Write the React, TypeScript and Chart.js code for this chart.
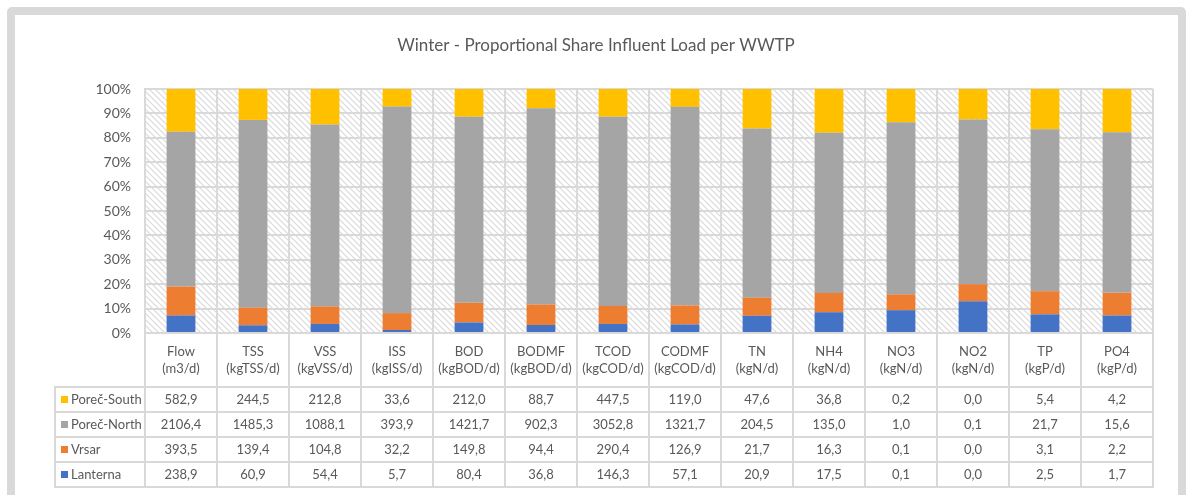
import React, { useEffect, useRef } from "react";
import { Chart, registerables } from "chart.js";

Chart.register(...registerables);

const TITLE = "Winter - Proportional Share Influent Load per WWTP";

const categories: string[][] = [
  ["Flow", "(m3/d)"],
  ["TSS", "(kgTSS/d)"],
  ["VSS", "(kgVSS/d)"],
  ["ISS", "(kgISS/d)"],
  ["BOD", "(kgBOD/d)"],
  ["BODMF", "(kgBOD/d)"],
  ["TCOD", "(kgCOD/d)"],
  ["CODMF", "(kgCOD/d)"],
  ["TN", "(kgN/d)"],
  ["NH4", "(kgN/d)"],
  ["NO3", "(kgN/d)"],
  ["NO2", "(kgN/d)"],
  ["TP", "(kgP/d)"],
  ["PO4", "(kgP/d)"],
];

// Loads per WWTP (unrounded where the table shows rounded values)
const lanterna = [238.9, 60.9, 54.4, 5.7, 80.4, 36.8, 146.3, 57.1, 20.9, 17.5, 0.13, 0.013, 2.5, 1.7];
const vrsar = [393.5, 139.4, 104.8, 32.2, 149.8, 94.4, 290.4, 126.9, 21.7, 16.3, 0.09, 0.007, 3.1, 2.2];
const porecNorth = [2106.4, 1485.3, 1088.1, 393.9, 1421.7, 902.3, 3052.8, 1321.7, 204.5, 135.0, 0.98, 0.0675, 21.7, 15.6];
const porecSouth = [582.9, 244.5, 212.8, 33.6, 212.0, 88.7, 447.5, 119.0, 47.6, 36.8, 0.19, 0.0125, 5.4, 4.2];

const seriesNames = ["Lanterna", "Vrsar", "Poreč-North", "Poreč-South"];
const seriesColors = ["#4472C4", "#ED7D31", "#A5A5A5", "#FFC000"];
const seriesValues = [lanterna, vrsar, porecNorth, porecSouth];

const yTicks = [0, 10, 20, 30, 40, 50, 60, 70, 80, 90, 100];

const FONT = "Lato, 'Noto Sans', sans-serif";
const TEXT = "#595959";
const GRID = "#d9d9d9";

const fmt = (v: number) => v.toFixed(1).replace(".", ",");

const totals = categories.map((_, i) => seriesValues.reduce((s, arr) => s + arr[i], 0));
const pct = (arr: number[]) => arr.map((v, i) => (v / totals[i]) * 100);

function makePattern(ctx: CanvasRenderingContext2D) {
  const c = document.createElement("canvas");
  const s = 6;
  c.width = s;
  c.height = s;
  const g = c.getContext("2d")!;
  g.fillStyle = "#ffffff";
  g.fillRect(0, 0, s, s);
  g.strokeStyle = "#d9d9d9";
  g.lineWidth = 1.2;
  g.beginPath();
  g.moveTo(-1, -1);
  g.lineTo(s + 1, s + 1);
  g.moveTo(-1, s - 1);
  g.lineTo(1, s + 1);
  g.moveTo(s - 1, -1);
  g.lineTo(s + 1, 1);
  g.stroke();
  return ctx.createPattern(c, "repeat")!;
}

const hatchPlugin = {
  id: "hatch",
  beforeDraw(chart: any) {
    const { ctx, chartArea: a } = chart;
    ctx.save();
    ctx.fillStyle = makePattern(ctx);
    ctx.fillRect(a.left, a.top, a.right - a.left, a.bottom - a.top);
    ctx.restore();
  },
};

const tablePlugin = {
  id: "dataTable",
  afterDraw(chart: any) {
    const { ctx, chartArea: a } = chart;
    const xs = chart.scales.x;
    const n = categories.length;
    const colW = (a.right - a.left) / n;
    const headTop = a.bottom;
    const headBottom = a.bottom + 54;
    const rowH = 25;
    const tableLeft = 55;
    const rows = [3, 2, 1, 0];
    const tableBottom = headBottom + rowH * rows.length;

    ctx.save();
    ctx.strokeStyle = GRID;
    ctx.lineWidth = 2;
    ctx.beginPath();
    for (let i = 0; i <= n; i++) {
      const x = a.left + i * colW;
      ctx.moveTo(x, headTop);
      ctx.lineTo(x, tableBottom);
    }
    ctx.moveTo(tableLeft, headBottom);
    ctx.lineTo(tableLeft, tableBottom);
    for (let r = 0; r <= rows.length; r++) {
      const y = headBottom + r * rowH;
      ctx.moveTo(tableLeft - 1, y);
      ctx.lineTo(a.right + 1, y);
    }
    ctx.stroke();

    ctx.font = `13px ${FONT}`;
    ctx.textBaseline = "middle";
    rows.forEach((si, r) => {
      const yc = headBottom + r * rowH + rowH / 2 + 0.5;
      ctx.fillStyle = seriesColors[si];
      ctx.fillRect(61, yc - 4, 7, 7);
      ctx.fillStyle = TEXT;
      ctx.textAlign = "left";
      ctx.fillText(seriesNames[si], 71, yc);
      ctx.textAlign = "center";
      seriesValues[si].forEach((v, i) => {
        ctx.fillText(fmt(v), xs.getPixelForValue(i), yc);
      });
    });
    ctx.restore();
  },
};

export default function App() {
  const ref = useRef<HTMLCanvasElement>(null);
  useEffect(() => {
    if (!ref.current) return;
    const chart = new Chart(ref.current, {
      type: "bar",
      data: {
        labels: categories,
        datasets: seriesNames.map((name, i) => ({
          label: name,
          data: pct(seriesValues[i]),
          backgroundColor: seriesColors[i],
          borderWidth: 0,
          barPercentage: 0.4,
          categoryPercentage: 1,
        })),
      },
      options: {
        animation: false,
        responsive: false,
        maintainAspectRatio: false,
        layout: { padding: { left: 39, right: 39, top: 0, bottom: 0 } },
        plugins: {
          legend: { display: false },
          tooltip: { enabled: false },
          title: {
            display: true,
            text: TITLE,
            color: TEXT,
            font: { family: FONT, size: 17, weight: "normal" },
            padding: { top: 35, bottom: 33.6 },
          },
        },
        scales: {
          x: {
            stacked: true,
            offset: true,
            grid: { display: true, offset: true, color: GRID, lineWidth: 2, drawTicks: false },
            border: { display: true, color: GRID, width: 2 },
            ticks: {
              color: TEXT,
              font: { family: FONT, size: 13, lineHeight: 1.3 },
              padding: 10,
              maxRotation: 0,
              autoSkip: false,
            },
            afterFit: (s: any) => {
              s.height = 162;
            },
          },
          y: {
            stacked: true,
            min: 0,
            max: 100,
            afterBuildTicks: (s: any) => {
              s.ticks = yTicks.map((v) => ({ value: v }));
            },
            grid: { color: GRID, lineWidth: 2, drawTicks: false },
            border: { display: true, color: GRID, width: 2 },
            ticks: {
              color: TEXT,
              font: { family: FONT, size: 14 },
              padding: 14,
              callback: (v: any) => `${v}%`,
            },
            afterFit: (s: any) => {
              s.width = 106;
            },
          },
        },
      },
      plugins: [hatchPlugin, tablePlugin],
    });
    return () => chart.destroy();
  }, []);

  return (
    <div style={{ position: "absolute", left: 0, top: 0, width: 1192, height: 495, overflow: "hidden", background: "#fff" }}>
      <div
        style={{
          position: "absolute",
          left: 7,
          top: 7,
          width: 1179,
          height: 540,
          border: "8px solid #d9d9d9",
          borderRadius: 5,
          boxSizing: "border-box",
          background: "#fff",
        }}
      />
      <canvas ref={ref} width={1192} height={495} style={{ position: "absolute", left: 0, top: 0 }} />
    </div>
  );
}
